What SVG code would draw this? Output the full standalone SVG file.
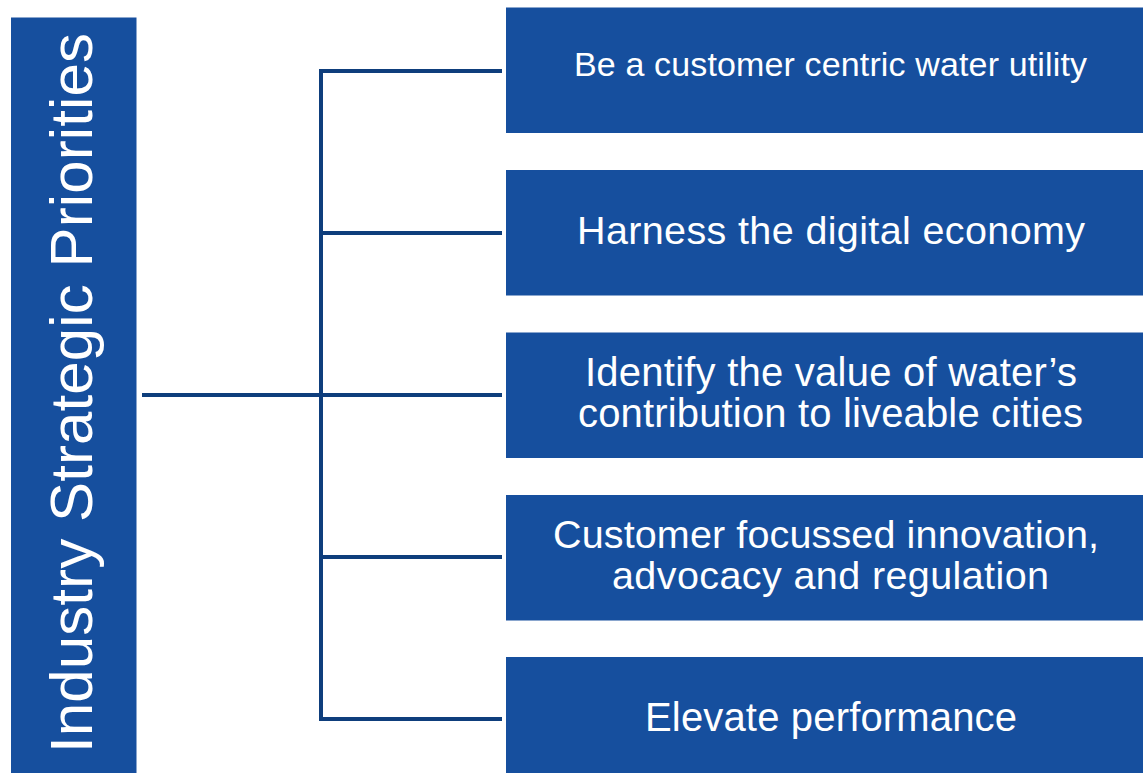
<svg xmlns="http://www.w3.org/2000/svg" width="1143" height="773" viewBox="0 0 1143 773">
  <style>
    .box { fill: #164f9e; }
    .lbl { fill: #ffffff; font-family: "Liberation Sans", Arial, sans-serif; text-anchor: middle; }
    .wire { stroke: #0e3e7c; stroke-width: 4; fill: none; stroke-linecap: butt; }
  </style>
  <rect width="1143" height="773" fill="#ffffff"/>

  <!-- connectors -->
  <g id="connectors">
    <line class="wire" x1="142" y1="395" x2="321" y2="395" stroke-width="4.5"/>
    <line class="wire" x1="321" y1="69" x2="321" y2="721"/>
    <line class="wire" x1="319" y1="71" x2="502" y2="71"/>
    <line class="wire" x1="321" y1="233" x2="502" y2="233"/>
    <line class="wire" x1="321" y1="395" x2="502" y2="395" stroke-width="4.5"/>
    <line class="wire" x1="321" y1="557" x2="502" y2="557"/>
    <line class="wire" x1="319" y1="719" x2="502" y2="719"/>
  </g>

  <!-- root node -->
  <g id="root">
    <rect class="box" x="11" y="17.5" width="125.5" height="760"/>
    <text class="lbl" font-size="60" transform="translate(92,393) rotate(-90)" textLength="720" lengthAdjust="spacing">Industry Strategic Priorities</text>
  </g>

  <!-- priorities -->
  <g id="p1">
    <rect class="box" x="506" y="7.5" width="637" height="125.5"/>
    <text class="lbl" x="830.5" y="76" font-size="34" textLength="513" lengthAdjust="spacing">Be a customer centric water utility</text>
  </g>
  <g id="p2">
    <rect class="box" x="506" y="170" width="637" height="125.5"/>
    <text class="lbl" x="831" y="244" font-size="39.5" textLength="508" lengthAdjust="spacing">Harness the digital economy</text>
  </g>
  <g id="p3">
    <rect class="box" x="506" y="332.5" width="637" height="125.5"/>
    <text class="lbl" x="831" y="386" font-size="40" textLength="492" lengthAdjust="spacing">Identify the value of water’s</text>
    <text class="lbl" x="830.5" y="427" font-size="40" textLength="505" lengthAdjust="spacing">contribution to liveable cities</text>
  </g>
  <g id="p4">
    <rect class="box" x="506" y="495" width="637" height="125.5"/>
    <text class="lbl" x="826" y="548" font-size="39.5" textLength="546" lengthAdjust="spacing">Customer focussed innovation,</text>
    <text class="lbl" x="830.5" y="589" font-size="39.5" textLength="437" lengthAdjust="spacing">advocacy and regulation</text>
  </g>
  <g id="p5">
    <rect class="box" x="506" y="657" width="637" height="125.5"/>
    <text class="lbl" x="831" y="731" font-size="40" textLength="372" lengthAdjust="spacing">Elevate performance</text>
  </g>
</svg>
